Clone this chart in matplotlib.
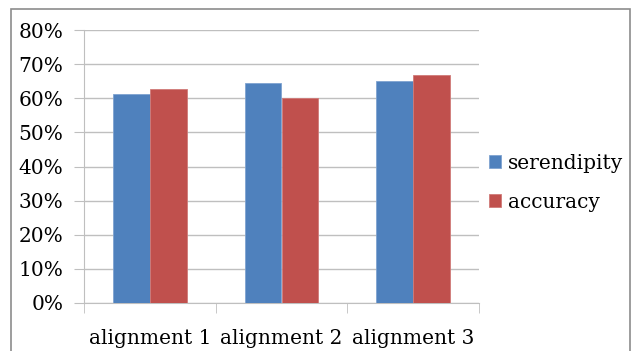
import numpy as np
import matplotlib.pyplot as plt
from matplotlib.patches import Rectangle

categories = ['alignment 1', 'alignment 2', 'alignment 3']
serendipity = [61.2, 64.6, 65.0]
accuracy = [62.7, 60.0, 66.7]
yticks = [0, 10, 20, 30, 40, 50, 60, 70, 80]

W, H = 632, 351
fig = plt.figure(figsize=(W / 100, H / 100), dpi=100)
plt.rcParams['font.family'] = ['DejaVu Serif']
fs = 14.5

# frame around the whole chart
fig.patches.append(Rectangle((11 / W, -0.1), 619 / W, 1.1 - 9 / H,
                             transform=fig.transFigure, fill=False,
                             edgecolor='#8c8c8c', linewidth=1.2))

ax = fig.add_axes([84 / W, 1 - 303 / H, 395 / W, 273 / H])
x = np.arange(len(categories))
bw = 0.28
ax.bar(x - bw / 2, serendipity, bw, color='#4f81bd', edgecolor='#7fa3d0',
       linewidth=0.6, label='serendipity', zorder=3)
ax.bar(x + bw / 2, accuracy, bw, color='#c0504d', edgecolor='#d07a78',
       linewidth=0.6, label='accuracy', zorder=3)

ax.set_xlim(-0.5, len(categories) - 0.5)
ax.set_ylim(0, 80)
ax.set_yticks(yticks)
ax.set_yticklabels([f'{v}%' for v in yticks], fontsize=fs)
ax.yaxis.grid(True, color='#bfbfbf', linewidth=1.0, zorder=0)

# category labels centred, ticks on the category boundaries
ax.set_xticks(x)
ax.set_xticklabels(categories, fontsize=fs)
ax.tick_params(axis='x', length=0, pad=19)
ax.set_xticks(np.arange(len(categories) + 1) - 0.5, minor=True)
ax.tick_params(axis='x', which='minor', length=7, color='#bfbfbf')
ax.tick_params(axis='y', length=7, color='#bfbfbf', pad=8)

for s in ['top', 'right']:
    ax.spines[s].set_visible(False)
for s in ['left', 'bottom']:
    ax.spines[s].set_color('#bfbfbf')

ax.legend(loc='center left', bbox_to_anchor=(0.99, 0.44), frameon=False,
          fontsize=fs, handlelength=0.6, handleheight=0.6,
          handletextpad=0.35, labelspacing=1.0, borderaxespad=0.3)

fig.savefig('out.png', dpi=100)
